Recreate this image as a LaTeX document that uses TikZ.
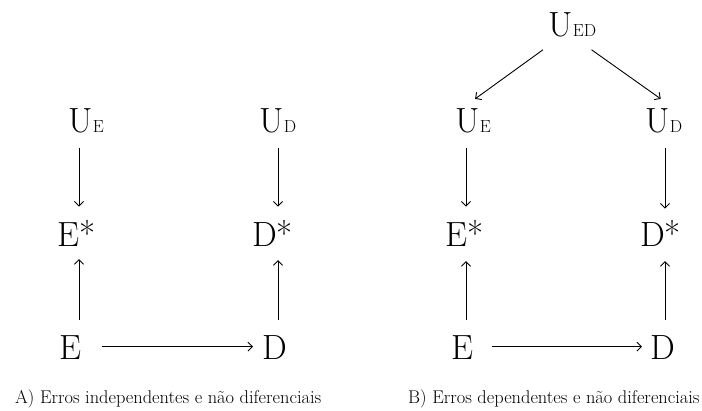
\documentclass[tikz,border=0pt]{standalone}
\usetikzlibrary{arrows.meta,calc}
\begin{document}
\begin{tikzpicture}[x=1pt,y=1pt,
  lab/.style={inner sep=0pt,anchor=base west,font=\fontsize{35}{40}\selectfont},
  captxt/.style={inner sep=0pt,anchor=base west,font=\fontsize{18.4}{22}\selectfont},
  arr/.style={line width=0.9pt,-{Straight Barb[length=4.5pt,width=9pt,line width=0.9pt]}}]
\newcommand{\sbs}[1]{\kern0.5pt{\fontsize{17.5}{20}\selectfont #1}}
\useasboundingbox (0,0) rectangle (702,410);
% ---------- panel A ----------
\node[lab] (UEa) at (68,277) {U\sbs{E}};
\node[lab] (UDa) at (259,277) {U\sbs{D}};
\node[lab] (Esa) at (57,163) {E*};
\node[lab] (Dsa) at (252,163) {D*};
\node[lab] (Ea) at (59,50) {E};
\node[lab] (Da) at (262,50) {D};
\coordinate (cAL) at (79,0);
\coordinate (cAR) at (278,0);
\draw[arr,shorten <=14pt,shorten >=14pt] (UEa.south -| cAL) -- (Esa.north -| cAL);
\draw[arr,shorten <=14pt,shorten >=14pt] (UDa.south -| cAR) -- (Dsa.north -| cAR);
\draw[arr,shorten <=16pt,shorten >=12pt] (Ea.north -| cAL) -- (Esa.south -| cAL);
\draw[arr,shorten <=16pt,shorten >=13pt] (Da.north -| cAR) -- (Dsa.south -| cAR);
\draw[arr,shorten <=21pt,shorten >=9pt] ([yshift=1.5pt]Ea.east) -- ([yshift=1.5pt]Ea.east -| Da.west);
\node[captxt] (capA) at (15,7) {A) Erros independentes e não diferenciais};
% ---------- panel B ----------
\node[lab] (UED) at (548,373) {U\sbs{ED}};
\node[lab] (UEb) at (455,277) {U\sbs{E}};
\node[lab] (UDb) at (645,277) {U\sbs{D}};
\node[lab] (Esb) at (445,163) {E*};
\node[lab] (Dsb) at (640,163) {D*};
\node[lab] (Eb) at (451,50) {E};
\node[lab] (Db) at (650,50) {D};
\coordinate (cBL) at (466,0);
\coordinate (cBR) at (665,0);
\draw[arr] ($(UED.south west)+(-5,-12)$) -- ($(UEb.north)+(2,10)$);
\draw[arr] ($(UED.south east)+(-5,-12)$) -- ($(UDb.north)+(-3,10)$);
\draw[arr,shorten <=14pt,shorten >=14pt] (UEb.south -| cBL) -- (Esb.north -| cBL);
\draw[arr,shorten <=14pt,shorten >=12pt] (UDb.south -| cBR) -- (Dsb.north -| cBR);
\draw[arr,shorten <=16pt,shorten >=14pt] (Eb.north -| cBL) -- (Esb.south -| cBL);
\draw[arr,shorten <=16pt,shorten >=14pt] (Db.north -| cBR) -- (Dsb.south -| cBR);
\draw[arr,shorten <=19pt,shorten >=8pt] ([yshift=1.5pt]Eb.east) -- ([yshift=1.5pt]Eb.east -| Db.west);
\node[captxt] (capB) at (408,7) {B) Erros dependentes e não diferenciais};
\end{tikzpicture}
\end{document}
